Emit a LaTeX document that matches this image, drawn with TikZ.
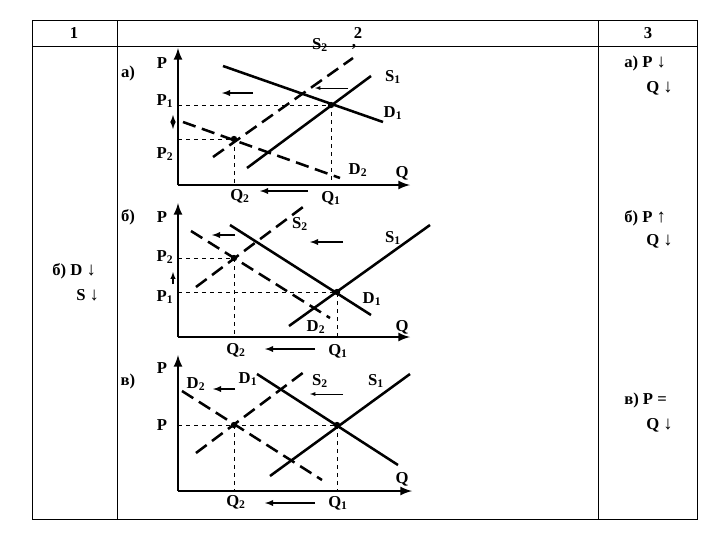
\documentclass[tikz,border=0pt]{standalone}
\usepackage{fontspec}
\setmainfont{Liberation Serif}
\newcommand\lb[2]{#1\textsubscript{#2}}
\newcommand\arr[1]{{\fontsize{14}{14}\selectfont #1}}
\begin{document}
\begin{tikzpicture}[x=0.75pt,y=-0.75pt,
  every node/.style={font=\bfseries\fontsize{12.5}{14}\selectfont,inner sep=0pt},
  axis/.style={line width=2pt,-latex},
  sol/.style={line width=1.9pt},
  das/.style={line width=1.9pt,dash pattern=on 10pt off 5pt},
  guide/.style={thin,dashed},
  movearrow/.style={line width=1.1pt,-latex},
  thinmove/.style={thin,-latex},
  dot/.style={circle,fill,inner sep=1.7pt}]
\useasboundingbox (0,0) rectangle (720,540);
% table
\draw[thin] (32,20) rectangle (697,519);
\draw[thin] (32,46) -- (697,46) (117,20) -- (117,519) (598,20) -- (598,519);
\node (h1) at (74,33) {1};
\node (h2) at (358,33) {2};
\node (h3) at (648,33) {3};
\node[anchor=west] (c1a) at (52,271) {б) D \arr{↓}};
\node[anchor=west] (c1b) at (76,295) {S \arr{↓}};
\node[anchor=west] (r1a) at (624,63) {а) P \arr{↓}};
\node[anchor=west] (r1b) at (646,88) {Q \arr{↓}};
\node[anchor=west] (r2a) at (624,218) {б) P \arr{↑}};
\node[anchor=west] (r2b) at (646,241) {Q \arr{↓}};
\node[anchor=west] (r3a) at (624,400) {в) P =};
\node[anchor=west] (r3b) at (646,425) {Q \arr{↓}};

% ---------- graph a ----------
\coordinate (aO) at (178,185);
\coordinate (aT) at (178,48);
\coordinate (aR) at (410,185);
\draw[axis] (aO) -- (aT);
\draw[axis] (aO) -- (aR);
\coordinate (aE1) at (331,105);
\coordinate (aE2) at (234,139);
\draw[sol] (223,66) -- (383,122);
\draw[sol] (247,168) -- (371,76);
\draw[das] (213,157) -- (353,58);
\draw[das] (183,122) -- (340,178);
\draw[guide] (178,105) -| (331,185);
\draw[guide] (178,139) -| (234,185);
\node[dot] (aD1) at (aE1) {};
\node[dot] (aD2) at (aE2) {};
\draw[movearrow] (253,93) -- (222,93);
\draw[thinmove] (348,88) -- (315,88);
\draw[movearrow] (308,191) -- (260,191);
\draw[thick,<->,>=latex] (173,115) -- (173,129);
\node (aa) at (128,73) {а)};
\node (aP) at (162,63) {P};
\node (aP1) at (165,101) {\lb{P}{1}};
\node (aP2) at (165,154) {\lb{P}{2}};
\node (aS2) at (320,45) {\lb{S}{2}};
\node (aap) at (354,50) {’};
\node (aS1) at (393,77) {\lb{S}{1}};
\node (aD1l) at (393,113) {\lb{D}{1}};
\node (aD2l) at (358,170) {\lb{D}{2}};
\node (aQ) at (402,173) {Q};
\node (aQ2) at (240,196) {\lb{Q}{2}};
\node (aQ1) at (331,198) {\lb{Q}{1}};

% ---------- graph b ----------
\coordinate (bO) at (178,337);
\coordinate (bT) at (178,203);
\coordinate (bR) at (410,337);
\draw[axis] (bO) -- (bT);
\draw[axis] (bO) -- (bR);
\coordinate (bE1) at (337,292);
\coordinate (bE2) at (234,258);
\draw[das] (196,287) -- (303,207);
\draw[das] (191,231) -- (330,318);
\draw[sol] (230,225) -- (371,315);
\draw[sol] (289,326) -- (430,225);
\draw[guide] (178,258) -| (234,337);
\draw[guide] (178,292) -| (337,337);
\node[dot] (bD1) at (bE1) {};
\node[dot] (bD2) at (bE2) {};
\draw[movearrow] (235,235) -- (212,235);
\draw[movearrow] (343,242) -- (310,242);
\draw[movearrow] (315,349) -- (265,349);
\draw[thick,->,>=latex] (173,284) -- (173,272);
\node (bb) at (128,217) {б)};
\node (bP) at (162,217) {P};
\node (bP2) at (165,257) {\lb{P}{2}};
\node (bP1) at (165,297) {\lb{P}{1}};
\node (bS2) at (300,224) {\lb{S}{2}};
\node (bS1) at (393,238) {\lb{S}{1}};
\node (bD1l) at (372,299) {\lb{D}{1}};
\node (bD2l) at (316,327) {\lb{D}{2}};
\node (bQ) at (402,327) {Q};
\node (bQ2) at (236,350) {\lb{Q}{2}};
\node (bQ1) at (338,351) {\lb{Q}{1}};

% ---------- graph v ----------
\coordinate (cO) at (178,491);
\coordinate (cT) at (178,355);
\coordinate (cR) at (412,491);
\draw[axis] (cO) -- (cT);
\draw[axis] (cO) -- (cR);
\coordinate (cE1) at (337,425);
\coordinate (cE2) at (234,425);
\draw[das] (182,391) -- (322,480);
\draw[das] (196,453) -- (304,372);
\draw[sol] (257,374) -- (398,465);
\draw[sol] (270,476) -- (410,374);
\draw[guide] (178,425) -- (337,425);
\draw[guide] (234,425) -- (234,491) (337,425) -- (337,491);
\node[dot] (cD1) at (cE1) {};
\node[dot] (cD2) at (cE2) {};
\draw[movearrow] (235,389) -- (213,389);
\draw[thinmove] (343,394) -- (310,394);
\draw[movearrow] (315,503) -- (265,503);
\node (cc) at (128,381) {в)};
\node (cPt) at (162,368) {P};
\node (cP) at (162,425) {P};
\node (cD2l) at (196,384) {\lb{D}{2}};
\node (cD1l) at (248,379) {\lb{D}{1}};
\node (cS2) at (320,381) {\lb{S}{2}};
\node (cS1) at (376,381) {\lb{S}{1}};
\node (cQ) at (402,479) {Q};
\node (cQ2) at (236,502) {\lb{Q}{2}};
\node (cQ1) at (338,503) {\lb{Q}{1}};
\end{tikzpicture}
\end{document}
